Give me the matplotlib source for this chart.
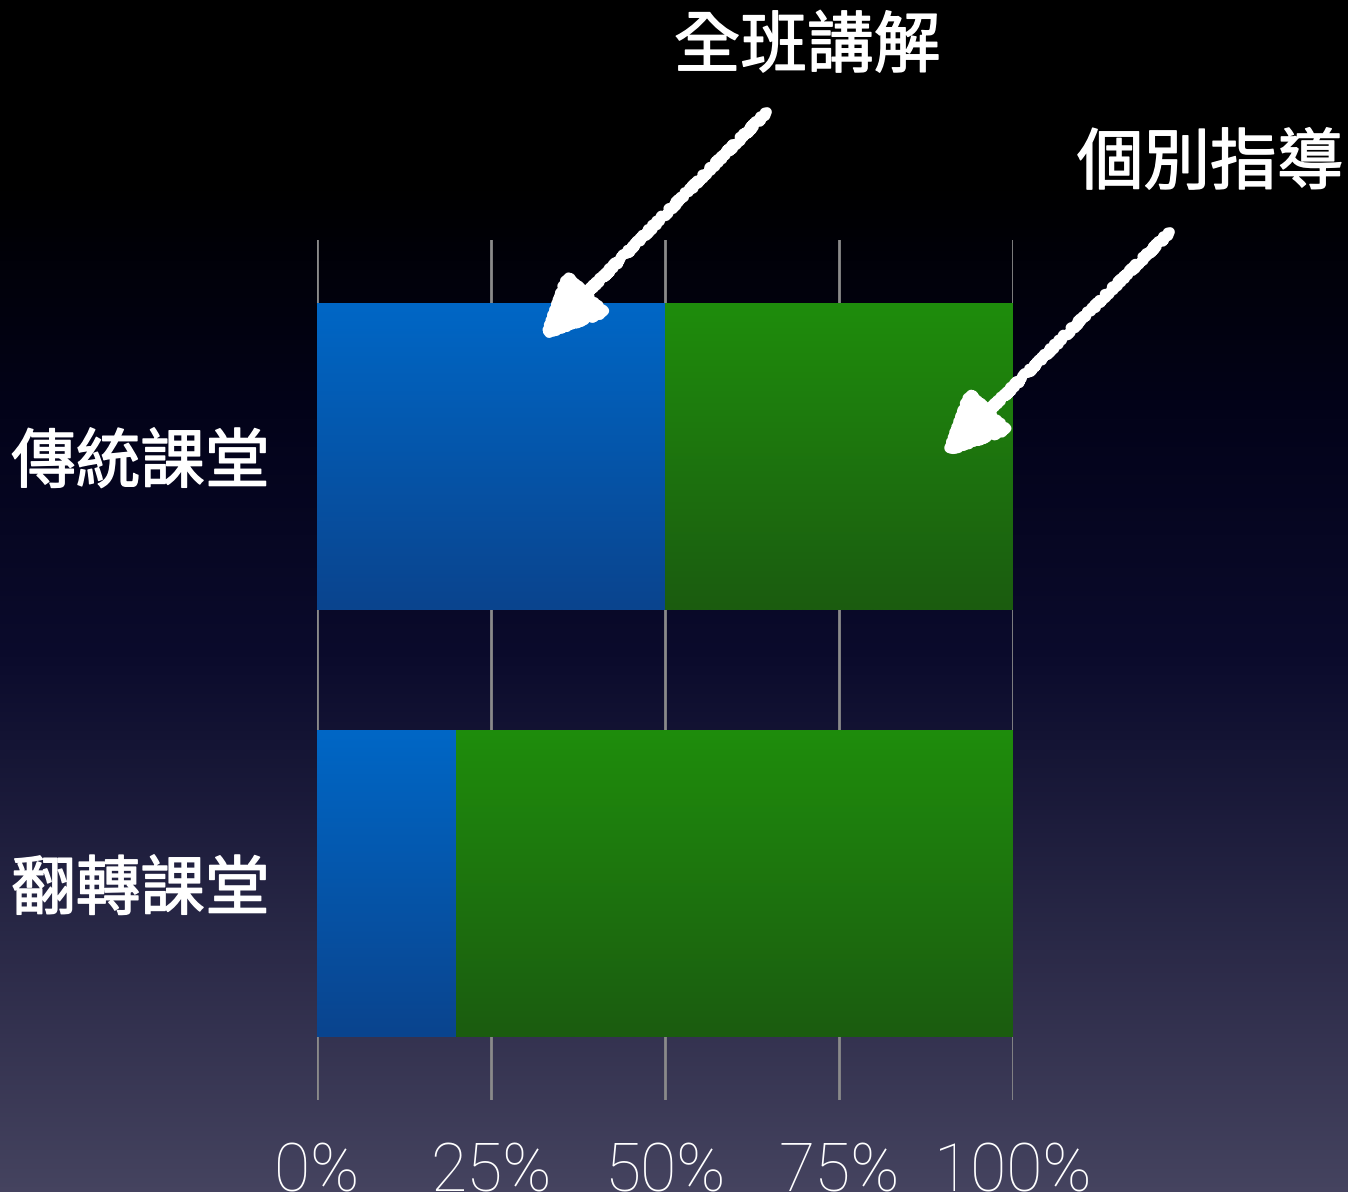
import numpy as np
import matplotlib
matplotlib.use("Agg")
import matplotlib.pyplot as plt
import matplotlib.patheffects as pe
from matplotlib.colors import LinearSegmentedColormap

# ---- data ----
categories = ["傳統課堂", "翻轉課堂"]
whole_class = [50, 20]      # 全班講解 (%)
individual = [50, 80]       # 個別指導 (%)
series_names = ["全班講解", "個別指導"]
tick_values = [0, 25, 50, 75, 100]
tick_labels = ["0%", "25%", "50%", "75%", "100%"]

CJK = ["Noto Sans CJK TC", "DejaVu Sans"]
plt.rcParams['font.family'] = CJK

W, H = 1348, 1192
fig = plt.figure(figsize=(W / 100, H / 100), dpi=100)

# background gradient (top black -> bottom slate)
bg = fig.add_axes([0, 0, 1, 1], zorder=-10)
bg_cmap = LinearSegmentedColormap.from_list(
    "bg", [(0.0, "#000000"), (0.15, "#000000"), (0.35, "#03031a"),
           (0.55, "#0b0b2c"), (0.8, "#2b2a48"), (1.0, "#45435f")])
grad = np.linspace(0, 1, 256).reshape(-1, 1)
bg.imshow(grad, aspect="auto", cmap=bg_cmap, extent=[0, 1, 0, 1], vmin=0, vmax=1)
bg.set_axis_off()

# main axes: x 317..1013 px, y 240..1100 px
ax = fig.add_axes([317 / W, 1 - 1100 / H, (1013 - 317) / W, (1100 - 240) / H])
ax.patch.set_alpha(0)
ypos = np.arange(len(categories))
bar_h = 0.72
b1 = ax.barh(ypos, whole_class, height=bar_h, color="#0060bc", zorder=2)
b2 = ax.barh(ypos, individual, left=whole_class, height=bar_h, color="#1e7c0e", zorder=2)

def grad_fill(bars, top, bottom):
    cm = LinearSegmentedColormap.from_list("g", [top, bottom])
    g = np.linspace(0, 1, 128).reshape(-1, 1)
    for p in bars:
        x0, y0 = p.get_x(), p.get_y()
        w, h = p.get_width(), p.get_height()
        im = ax.imshow(g, aspect="auto", cmap=cm, extent=[x0, x0 + w, y0 + h, y0],
                       zorder=2.5, interpolation="bilinear")
        im.set_clip_path(p)

grad_fill(b1, "#0067c6", "#0a448e")
grad_fill(b2, "#1f8d0c", "#1b5c10")

thick = [pe.withStroke(linewidth=1.0, foreground="white")]

ax.set_xlim(0, 100)
ax.set_ylim(1.507, -0.507)
ax.set_xticks(tick_values)
ax.set_xticklabels(tick_labels, fontsize=47.5, color="white",
                   family=["Roboto", "DejaVu Sans"], fontweight="light")
ax.set_yticks(ypos)
ax.set_yticklabels(categories, fontsize=46.5, color="white", family=CJK,
                   fontweight="normal", path_effects=thick)
ax.tick_params(axis="both", length=0)
ax.tick_params(axis="x", pad=30)
ax.tick_params(axis="y", pad=34)
ax.grid(axis="x", color="#8a8a8a", linewidth=2, zorder=1)
ax.set_axisbelow(True)
for s in ax.spines.values():
    s.set_visible(False)

# annotations with chalk-style arrows
arrow_kw = dict(arrowstyle="-|>,head_length=3.8,head_width=1.8", color="white",
                lw=7, shrinkA=0, shrinkB=0)
ax.text(807 / W, 1 - 48 / H, series_names[0], transform=fig.transFigure, ha="center",
        va="center", fontsize=48, color="white", fontweight="normal",
        path_effects=thick)
a1 = ax.annotate("", xy=(540 / W, 1 - 340 / H), xytext=(767 / W, 1 - 112 / H),
                 xycoords="figure fraction", textcoords="figure fraction",
                 arrowprops=arrow_kw, zorder=5)
ax.text(1210 / W, 1 - 165 / H, series_names[1], transform=fig.transFigure, ha="center",
        va="center", fontsize=48, color="white", fontweight="normal",
        path_effects=thick)
a2 = ax.annotate("", xy=(942 / W, 1 - 457 / H), xytext=(1170 / W, 1 - 232 / H),
                 xycoords="figure fraction", textcoords="figure fraction",
                 arrowprops=arrow_kw, zorder=5)
for a in (a1, a2):
    a.arrow_patch.set_sketch_params(2.0, 5, 4)

fig.savefig("out.png", dpi=100)
